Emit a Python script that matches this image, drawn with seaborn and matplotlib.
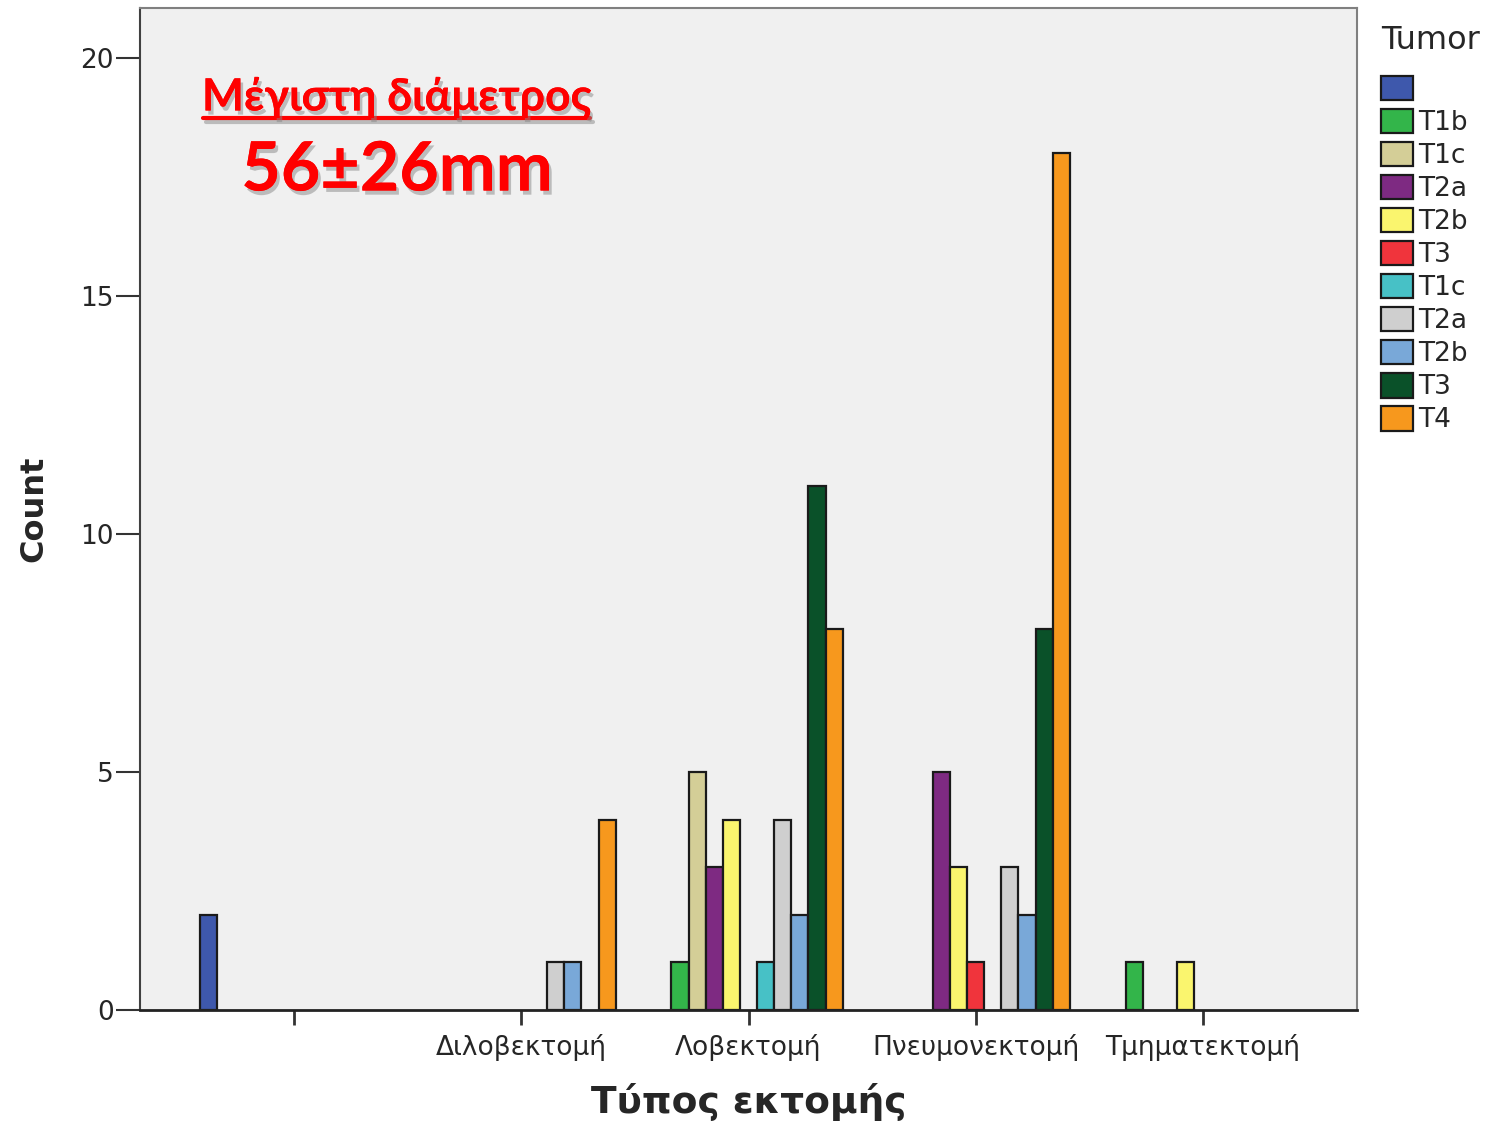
import pandas as pd
import matplotlib
matplotlib.use("Agg")
import matplotlib.pyplot as plt
import matplotlib.patheffects as pe
from matplotlib.patches import Patch
from matplotlib.lines import Line2D
import seaborn as sns

# data
categories = ["", "Διλοβεκτομή", "Λοβεκτομή", "Πνευμονεκτομή", "Τμηματεκτομή"]
tumor_labels = ["", "T1b", "T1c", "T2a", "T2b", "T3", "T1c", "T2a", "T2b", "T3", "T4"]
tumor_colors = ["#3E58AC", "#33B54A", "#D4CE97", "#7E2A82", "#FAF56E", "#F0343C",
                "#47C1C6", "#CFCFCF", "#79A8D8", "#0A5129", "#F7981D"]

counts_blank = [2, 0, 0, 0, 0]
counts_t1b = [0, 0, 1, 0, 1]
counts_t1c = [0, 0, 5, 0, 0]
counts_t2a = [0, 0, 3, 5, 0]
counts_t2b = [0, 0, 4, 3, 1]
counts_t3 = [0, 0, 0, 1, 0]
counts_t1c_2 = [0, 0, 1, 0, 0]
counts_t2a_2 = [0, 1, 4, 3, 0]
counts_t2b_2 = [0, 1, 2, 2, 0]
counts_t3_2 = [0, 0, 11, 8, 0]
counts_t4 = [0, 4, 8, 18, 0]

series = [counts_blank, counts_t1b, counts_t1c, counts_t2a, counts_t2b, counts_t3,
          counts_t1c_2, counts_t2a_2, counts_t2b_2, counts_t3_2, counts_t4]

# long table, unique hue keys because the labels repeat
hue_keys = [f"s{i}" for i in range(len(tumor_labels))]
rows = []
for key, vals in zip(hue_keys, series):
    for cat, v in zip(categories, vals):
        if v > 0:
            rows.append({"Type": cat, "Tumor": key, "Count": v})
df = pd.DataFrame(rows)
palette = dict(zip(hue_keys, tumor_colors))

sns.set_style("white")
plt.rcParams["font.family"] = ["DejaVu Sans"]

fig = plt.figure(figsize=(15.01, 11.24), dpi=100)
ax = fig.add_axes([140 / 1501, 1 - 1010 / 1124, 1217 / 1501, 1002 / 1124])
ax.set_facecolor("#F0F0F0")

sns.barplot(data=df, x="Type", y="Count", hue="Tumor", order=categories,
            hue_order=hue_keys, palette=palette, width=0.83, dodge=True,
            edgecolor="#1a1a1a", linewidth=1.6, saturation=1, legend=False, ax=ax)

ax.set_xlim(-0.68, 4.68)
ax.set_ylim(0, 21.05)
ax.set_yticks([0, 5, 10, 15, 20])
ax.tick_params(axis="y", length=17, width=1.5, labelsize=19, color="#333333", pad=2, left=True)
ax.tick_params(axis="x", length=11, width=2, labelsize=19, color="#333333", pad=6, bottom=True)

for side in ["top", "right"]:
    ax.spines[side].set_color("#808080")
    ax.spines[side].set_linewidth(1.5)
ax.spines["left"].set_color("#404040")
ax.spines["left"].set_linewidth(1.5)
ax.spines["bottom"].set_color("#222222")
ax.spines["bottom"].set_linewidth(2)

ax.set_xlabel("Τύπος εκτομής", fontsize=27, fontweight="bold", labelpad=16)
ax.set_ylabel("Count", fontsize=23, fontweight="bold", labelpad=22)

# legend with the repeated labels
handles = [Patch(facecolor=c, edgecolor="#1a1a1a", linewidth=1.6) for c in tumor_colors]
leg = ax.legend(handles, tumor_labels, title="Tumor", loc="upper left",
                bbox_to_anchor=(1.006, 1.0), frameon=False, fontsize=19,
                title_fontsize=23, handlelength=1.2, handleheight=1.05,
                labelspacing=0.22, handletextpad=0.2, borderaxespad=0.25)
leg._legend_box.align = "left"
leg._legend_box.sep = 14

# red annotation
shadow = [pe.withSimplePatchShadow(offset=(2, -3), shadow_rgbFace="#888888", alpha=0.5), pe.Normal()]
fig.text(397 / 1501, 1 - 97 / 1124, "Μέγιστη διάμετρος", color="#FF0000", fontsize=32,
         fontweight="bold", family="Lato", ha="center", va="center", path_effects=shadow)
fig.add_artist(Line2D([203 / 1501, 590 / 1501], [1 - 118 / 1124, 1 - 118 / 1124],
                      color="#FF0000", linewidth=3,
                      path_effects=[pe.SimpleLineShadow(offset=(2, -3), shadow_color="#888888", alpha=0.5), pe.Normal()]))
fig.text(397 / 1501, 1 - 171 / 1124, "56±26mm", color="#FF0000", fontsize=49,
         fontweight="bold", family="Lato", ha="center", va="center", path_effects=shadow)

fig.savefig("out.png", dpi=100)
